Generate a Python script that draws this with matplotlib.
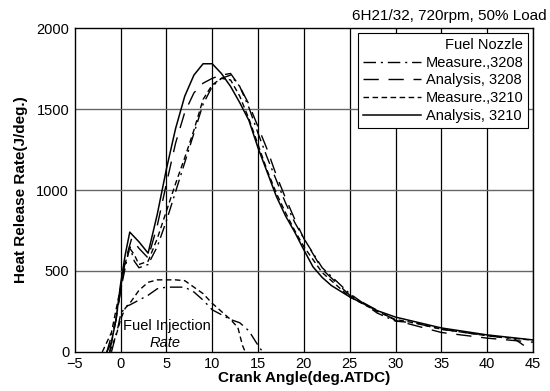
import matplotlib
matplotlib.use('Agg')
import matplotlib.pyplot as plt

plt.rcParams['font.family'] = ['Liberation Sans', 'DejaVu Sans']

# heat release rate, J/deg
x_meas_3208 = [-1.5, -0.5, 0, 0.5, 1, 1.5, 2, 3, 4, 5, 6, 7, 8, 9, 10, 11, 12, 13, 14, 15, 16, 17,
               18, 19, 20, 22, 25, 28, 30, 32, 35, 40, 43, 44]
y_meas_3208 = [0, 200, 380, 520, 650, 560, 520, 540, 650, 810, 990, 1170, 1350, 1530, 1640, 1690, 1710,
               1640, 1510, 1350, 1200, 1060, 920, 800, 700, 520, 360, 240, 190, 180, 140, 100, 80, 40]

x_anal_3208 = [-1.2, -0.5, 0, 0.5, 1.2, 2, 3, 4, 5, 6, 7, 8, 9, 10, 11, 12, 13, 14, 15, 16, 17, 18,
               19, 20, 22, 25, 30, 35, 40, 45]
y_anal_3208 = [0, 200, 380, 560, 700, 640, 580, 780, 1040, 1290, 1480, 1600, 1660, 1690, 1710, 1720,
               1640, 1530, 1390, 1250, 1090, 950, 820, 700, 510, 350, 195, 120, 85, 60]

x_meas_3210 = [-2, -1, 0, 0.5, 1, 1.5, 2, 3, 4, 5, 6, 7, 8, 9, 10, 11, 12, 13, 14, 15, 16, 17, 18,
               19, 20, 22, 25, 28, 30, 32, 35, 40, 45]
y_meas_3210 = [0, 120, 400, 550, 640, 600, 540, 560, 700, 870, 1040, 1200, 1370, 1560, 1650, 1690,
               1680, 1580, 1440, 1280, 1120, 980, 860, 750, 650, 490, 340, 250, 200, 180, 140, 100, 72]

x_anal_3210 = [-1.5, -1, -0.5, 0, 0.5, 1, 2, 3, 4, 5, 6, 7, 8, 9, 10, 11, 12, 13, 14, 15, 16, 17,
               18, 19, 20, 21, 22, 23, 25, 28, 30, 35, 40, 45]
y_anal_3210 = [0, 60, 200, 420, 600, 740, 680, 610, 850, 1130, 1380, 1580, 1710, 1780, 1780, 1720,
               1640, 1540, 1430, 1260, 1110, 960, 840, 740, 630, 525, 460, 410, 340, 255, 215, 148, 105, 74]

# fuel injection rate (scaled)
x_inj_3208 = [-1, -0.3, 0, 0.5, 1, 2, 3, 4, 5, 6, 7, 8, 9, 10, 11, 12, 13, 14, 15, 15.5]
y_inj_3208 = [0, 150, 230, 280, 290, 320, 350, 390, 400, 400, 400, 370, 320, 260, 230, 200, 180, 130, 40, 0]

x_inj_3210 = [-1.2, -0.5, 0, 0.5, 1, 2, 3, 4, 5, 6, 7, 8, 9, 10, 11, 12, 12.8, 13.3, 13.6]
y_inj_3210 = [0, 100, 200, 270, 300, 380, 430, 445, 445, 445, 440, 400, 360, 300, 250, 200, 150, 40, 0]

dashdot = (0, (9, 3.5, 1.5, 3.5))
longdash = (0, (11, 7))
shortdash = (0, (4, 2.5))

fig = plt.figure(figsize=(5.5, 3.91), dpi=100)
ax = fig.add_axes([0.136, 0.1, 0.833, 0.828])

ax.plot(x_meas_3208, y_meas_3208, color='black', lw=1, ls=dashdot, label='Measure.,3208')
ax.plot(x_anal_3208, y_anal_3208, color='black', lw=1, ls=longdash, label='Analysis, 3208')
ax.plot(x_meas_3210, y_meas_3210, color='black', lw=1, ls=shortdash, label='Measure.,3210')
ax.plot(x_anal_3210, y_anal_3210, color='black', lw=1.1, ls='-', label='Analysis, 3210')
ax.plot(x_inj_3208, y_inj_3208, color='black', lw=1, ls=dashdot)
ax.plot(x_inj_3210, y_inj_3210, color='black', lw=1, ls=shortdash)

ax.set_xlim(-5, 45)
ax.set_ylim(0, 2000)
ax.set_xticks(range(-5, 46, 5))
ax.set_yticks(range(0, 2001, 500))
ax.tick_params(length=0, labelsize=10.5, pad=4)
for v in range(0, 46, 5):
    ax.axvline(v, color='black', lw=0.9, zorder=0)
for h in [500, 1000, 1500]:
    ax.axhline(h, color='0.4', lw=1.0, zorder=0)
for s in ax.spines.values():
    s.set_linewidth(1.0)

ax.set_xlabel('Crank Angle(deg.ATDC)', fontsize=11, fontweight='bold', labelpad=0)
ax.set_ylabel('Heat Release Rate(J/deg.)', fontsize=11, fontweight='bold', labelpad=6)
fig.text(0.993, 0.958, '6H21/32, 720rpm, 50% Load', ha='right', va='center', fontsize=11)

ax.text(5.1, 160, 'Fuel Injection', ha='center', va='center', fontsize=10.5)
ax.text(4.9, 58, 'Rate', ha='center', va='center', fontsize=10.5, style='italic')

leg = ax.legend(loc='upper right', bbox_to_anchor=(0.99, 0.985), title='Fuel Nozzle',
                fontsize=10.5, title_fontsize=10.5, fancybox=False, edgecolor='black',
                framealpha=1, handlelength=4.0, handletextpad=0.3, labelspacing=0.25,
                borderpad=0.35, borderaxespad=0)
leg.get_frame().set_linewidth(0.8)
leg._legend_box.align = 'right'

fig.savefig('out.png', dpi=100)
